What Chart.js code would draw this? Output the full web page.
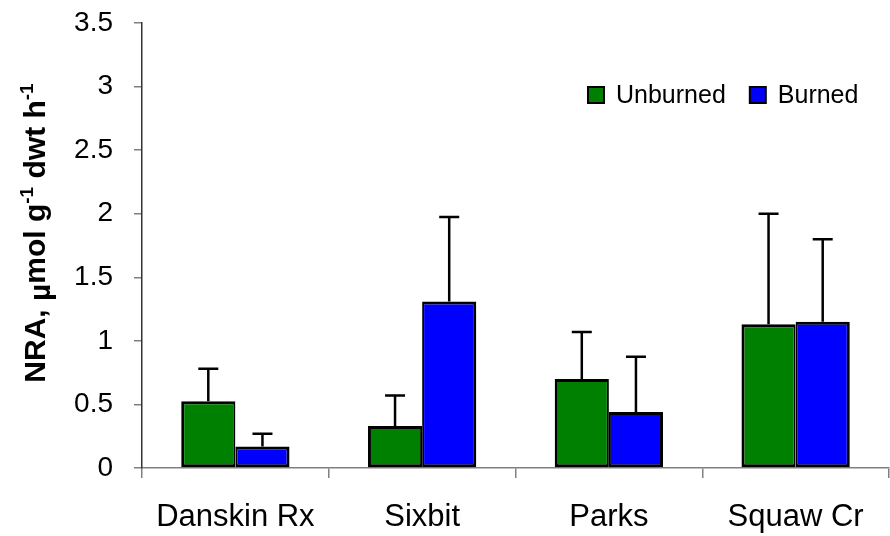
<!DOCTYPE html>
<html>
<head>
<meta charset="utf-8">
<script src="https://cdn.jsdelivr.net/npm/chart.js@4"></script>
<style>
  html, body { margin: 0; padding: 0; background: #fff; }
  #wrap { width: 890px; height: 536px; }
</style>
</head>
<body>
<div id="wrap"><canvas id="chart" width="890" height="536"></canvas></div>
<script>
// data
const sites = ['Danskin Rx', 'Sixbit', 'Parks', 'Squaw Cr'];
const unburned = [0.525, 0.33, 0.70, 1.13];
const unburnedErr = [0.255, 0.24, 0.37, 0.87];   // upper error (added to mean)
const burned = [0.17, 1.31, 0.44, 1.15];
const burnedErr = [0.10, 0.665, 0.435, 0.65];
const yTicks = [0, 0.5, 1, 1.5, 2, 2.5, 3, 3.5];

const FONT = 'Arial, "Liberation Sans", sans-serif';

// upper error bars, drawn through the y scale
const errorBars = {
    id: 'errorBars',
    afterDatasetsDraw(chart) {
        const ctx = chart.ctx;
        const y = chart.scales.y;
        ctx.save();
        ctx.strokeStyle = '#000';
        ctx.lineWidth = 2.5;
        chart.data.datasets.forEach((ds, i) => {
            const meta = chart.getDatasetMeta(i);
            meta.data.forEach((bar, j) => {
                const top = y.getPixelForValue(ds.data[j] + ds.errUp[j]);
                ctx.beginPath();
                ctx.moveTo(bar.x, bar.y);
                ctx.lineTo(bar.x, top);
                ctx.moveTo(bar.x - 10, top);
                ctx.lineTo(bar.x + 10, top);
                ctx.stroke();
            });
        });
        ctx.restore();
    }
};

// legend inside the plot + y title with superscripts
const extras = {
    id: 'extras',
    afterDraw(chart) {
        const ctx = chart.ctx;
        ctx.save();
        // legend
        ctx.font = '25px ' + FONT;
        ctx.textBaseline = 'middle';
        let x = 588;
        const yMid = 95;
        chart.data.datasets.forEach(ds => {
            ctx.fillStyle = ds.backgroundColor;
            ctx.fillRect(x, yMid - 8, 16, 16);
            ctx.strokeStyle = '#000';
            ctx.lineWidth = 2;
            ctx.strokeRect(x, yMid - 8, 16, 16);
            ctx.fillStyle = '#000';
            ctx.textAlign = 'left';
            ctx.fillText(ds.label, x + 28, yMid + 1);
            x += 28 + ctx.measureText(ds.label).width + 24;
        });

        // y axis title: NRA, µmol g-1 dwt h-1
        const parts = [
            { t: 'NRA, ', s: 0 },
            { t: 'µ', s: 5 },
            { t: 'mol g', s: 0 },
            { t: '-1', s: -12, small: true },
            { t: ' dwt h', s: 0 },
            { t: '-1', s: -12, small: true }
        ];
        const big = 'bold 30px ' + FONT;
        const sml = 'bold 19px ' + FONT;
        let total = 0;
        parts.forEach(p => { ctx.font = p.small ? sml : big; total += ctx.measureText(p.t).width; });
        ctx.translate(45, 233);
        ctx.rotate(-Math.PI / 2);
        ctx.textAlign = 'left';
        ctx.textBaseline = 'alphabetic';
        ctx.fillStyle = '#000';
        let cx = -total / 2;
        parts.forEach(p => {
            ctx.font = p.small ? sml : big;
            ctx.fillText(p.t, cx, p.s);
            cx += ctx.measureText(p.t).width;
        });
        ctx.restore();
    }
};

new Chart(document.getElementById('chart'), {
    type: 'bar',
    data: {
        labels: sites,
        datasets: [
            {
                label: 'Unburned', data: unburned, errUp: unburnedErr, backgroundColor: '#008000',
                borderWidth: { top: 3, left: 3, bottom: 3, right: 2 }
            },
            {
                label: 'Burned', data: burned, errUp: burnedErr, backgroundColor: '#0000ff',
                borderWidth: { top: 3, left: 2, bottom: 3, right: 3 }
            }
        ]
    },
    options: {
        responsive: false,
        animation: false,
        devicePixelRatio: 1,
        layout: { padding: { top: 23, right: 1, left: 0, bottom: 0 } },
        datasets: {
            bar: {
                borderColor: '#000',
                borderSkipped: false,
                inflateAmount: 0,
                categoryPercentage: 0.58,
                barPercentage: 1
            }
        },
        plugins: {
            legend: { display: false },
            tooltip: { enabled: false }
        },
        scales: {
            x: {
                grid: { offset: true, drawOnChartArea: false, color: '#808080', tickLength: 10, lineWidth: 1.5 },
                border: { color: '#808080', width: 1.5 },
                ticks: { color: '#000', font: { family: FONT, size: 31 }, padding: 21 },
                afterFit(s) { s.height = 68; s.paddingLeft = 0; s.paddingRight = 0; }
            },
            y: {
                min: 0,
                max: 3.5,
                afterBuildTicks(s) { s.ticks = yTicks.map(v => ({ value: v })); },
                grid: { drawOnChartArea: false, color: '#808080', tickLength: 8, lineWidth: 1.5 },
                border: { color: '#333', width: 1.5 },
                ticks: {
                    color: '#000',
                    font: { family: FONT, size: 28 },
                    padding: 21,
                    callback: v => String(v)
                },
                afterFit(s) { s.width = 142; s.paddingTop = 0; s.paddingBottom = 0; }
            }
        }
    },
    plugins: [errorBars, extras]
});
</script>
</body>
</html>
